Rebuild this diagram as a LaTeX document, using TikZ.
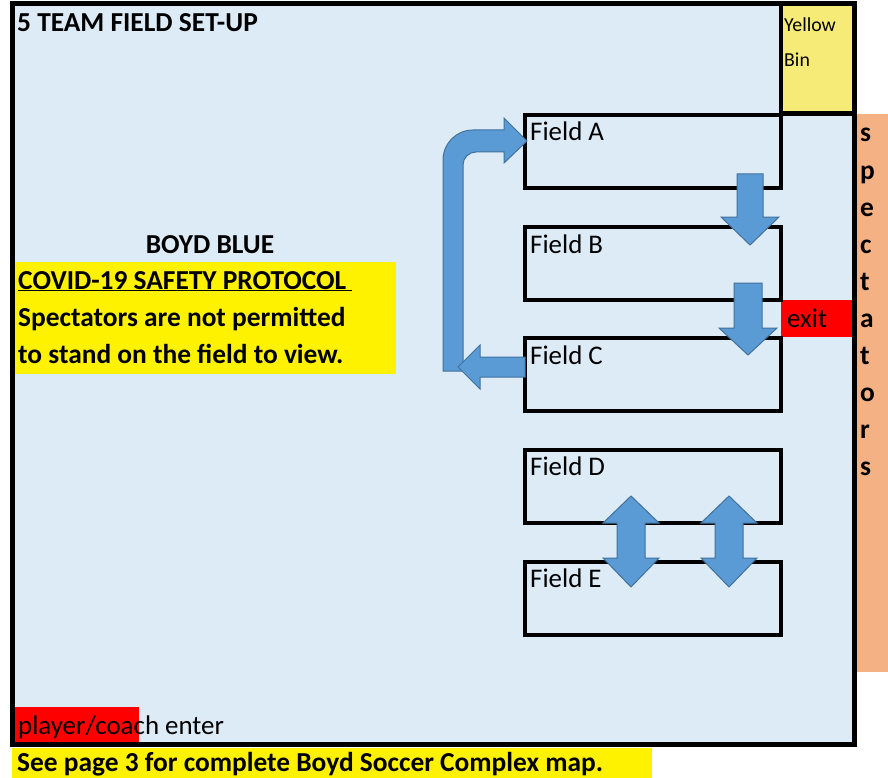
\documentclass[tikz,border=0pt]{standalone}
\usepackage{fontspec}
\setmainfont{Carlito}
\usetikzlibrary{positioning,calc}
\definecolor{fieldBg}{HTML}{DDEBF7}
\definecolor{arrowBlue}{HTML}{5B9BD5}
\definecolor{arrowEdge}{HTML}{41719C}
\definecolor{binYellow}{HTML}{F5EB76}
\definecolor{specOrange}{HTML}{F4B183}

\begin{document}
\begin{tikzpicture}[x=1pt,y=-1pt,
    frame/.style={draw=black,line width=5pt,fill=fieldBg},
    field/.style={draw=black,line width=4pt,minimum width=256pt,minimum height=73pt,inner sep=0pt,outer sep=0pt},
    lbl/.style={anchor=base west,inner sep=0pt,font=\fontsize{26.9}{32}\selectfont},
    blbl/.style={lbl,font=\fontsize{27.4}{32}\selectfont\bfseries},
    small/.style={lbl,font=\fontsize{19.8}{23}\selectfont},
    blockarrow/.style={fill=arrowBlue,draw=arrowEdge,line width=1pt,line join=miter}
  ]
  \useasboundingbox (0,0) rectangle (888,778);
  % field area and side strips
  \draw[frame] (12.5,3.5) rectangle (854.5,744.5);
  \draw[line width=4.5pt,fill=binYellow] (781,3.5) rectangle (854.5,113.5);
  \fill[specOrange] (857,114) rectangle (888,672);
  \fill[red] (781,300) rectangle (852,337);
  \fill[red] (15,707) rectangle (139,742);
  \fill[yellow] (15,262) rectangle (396,374);
  \fill[yellow] (12,748) rectangle (652,778);

  % texts
  \node[blbl] (title) at (17,32) {5 TEAM FIELD SET-UP};
  \node[small] (bin1) at (784,32) {Yellow};
  \node[small] (bin2) at (784,67) {Bin};
  \node[blbl,anchor=base] (boyd) at (210,253) {BOYD BLUE};
  \node[blbl] (covid) at (18,289) {\underline{COVID-19 SAFETY PROTOCOL\ }};
  \node[blbl] (rule1) at (18,326) {Spectators are not permitted};
  \node[blbl] (rule2) at (18,363) {to stand on the field to view.};
  \node[lbl] (exit) at (787,327) {exit};
  \node[lbl] (enter) at (18,734) {player/coach enter};
  \node[blbl] (map) at (17,771) {See page 3 for complete Boyd Soccer Complex map.};
  \foreach \ch [count=\i] in {s,p,e,c,t,a,t,o,r,s}{
    \node[blbl] (spec\i) at (860,105+37*\i) {\ch};
  }

  % fields
  \foreach \f/\y in {A/151.5,B/263.5,C/374.5,D/486,E/598}{
    \node[field] (field\f) at (653,\y) {};
    \node[lbl] (lab\f) at ([shift={(5,26)}]field\f.north west) {Field \f};
  }

  % rotation arrows
  \draw[blockarrow] (737,174) -- (763,174) -- (763,217) -- (779,217) -- (750,245)
    -- (721,217) -- (737,217) -- cycle;
  \draw[blockarrow] (734,283) -- (762,283) -- (762,328) -- (777,328) -- (748,355)
    -- (719,328) -- (734,328) -- cycle;
  \draw[blockarrow] (443,371) -- (443,160) .. controls (443,143.4) and (456.4,130) .. (473,130)
    -- (504,130) -- (504,118) -- (527,141) -- (504,163) -- (504,152) -- (476,152)
    .. controls (468.8,152) and (463,157.8) .. (463,165) -- (463,371) -- cycle;
  \draw[blockarrow] (525,357) -- (480,357) -- (480,345) -- (458,367) -- (480,389)
    -- (480,377) -- (525,377) -- cycle;
  \foreach \cx in {631,729}{
    \draw[blockarrow] (\cx,496) -- (\cx+28,523) -- (\cx+14,523) -- (\cx+14,558) -- (\cx+28,558)
      -- (\cx,587) -- (\cx-28,558) -- (\cx-14,558) -- (\cx-14,523) -- (\cx-28,523) -- cycle;
  }
\end{tikzpicture}
\end{document}
